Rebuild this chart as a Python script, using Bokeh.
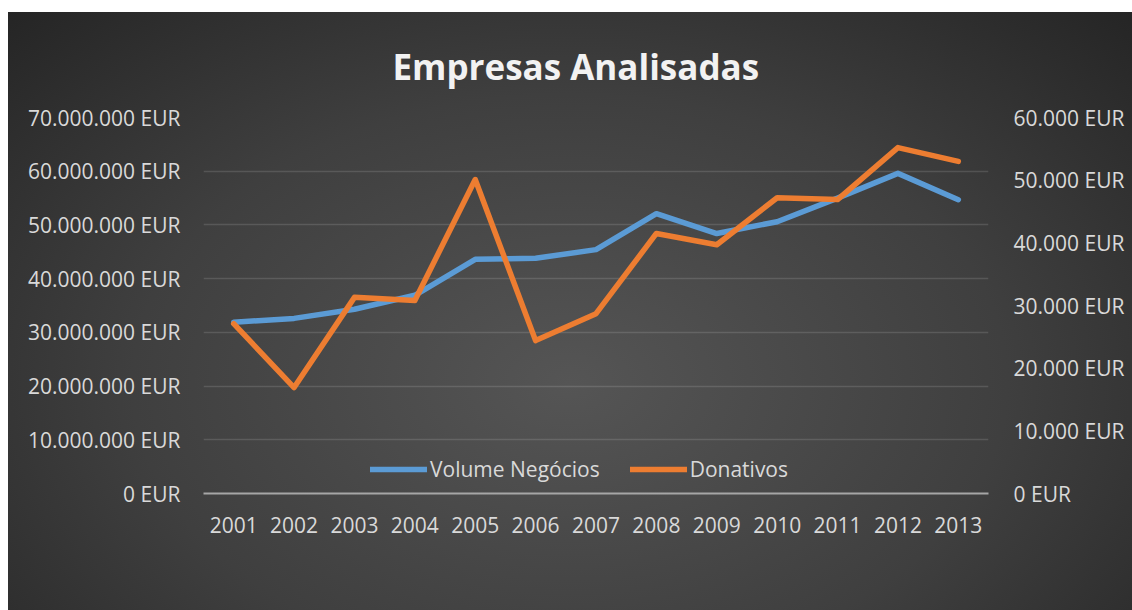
from bokeh.plotting import figure
from bokeh.models import (Range1d, FactorRange, LinearAxis, FixedTicker, Legend,
                          LegendItem, Spacer)
from bokeh.layouts import column, row
from bokeh.embed import file_html
from bokeh.resources import INLINE

years = ["2001", "2002", "2003", "2004", "2005", "2006", "2007",
         "2008", "2009", "2010", "2011", "2012", "2013"]
volume_negocios = [31.9e6, 32.6e6, 34.3e6, 36.9e6, 43.6e6, 43.8e6, 45.4e6,
                   52.1e6, 48.4e6, 50.6e6, 55.0e6, 59.6e6, 54.7e6]
donativos = [27100, 16900, 31300, 30800, 50100, 24400, 28700,
             41500, 39700, 47200, 46900, 55200, 53000]

left_ticks = [0, 10e6, 20e6, 30e6, 40e6, 50e6, 60e6, 70e6]
left_tick_labels = ["0 EUR", "10.000.000 EUR", "20.000.000 EUR", "30.000.000 EUR",
                    "40.000.000 EUR", "50.000.000 EUR", "60.000.000 EUR", "70.000.000 EUR"]
right_ticks = [0, 10000, 20000, 30000, 40000, 50000, 60000]
right_tick_labels = ["0 EUR", "10.000 EUR", "20.000 EUR", "30.000 EUR",
                     "40.000 EUR", "50.000 EUR", "60.000 EUR"]

FONT = "Open Sans"
LABEL_COLOR = "#d9d9d9"
BLUE = "#5B9BD5"
ORANGE = "#ED7D31"

p = figure(frame_width=785, frame_height=376,
           x_range=FactorRange(*years, range_padding=0),
           y_range=Range1d(0, 70e6),
           output_backend="svg", toolbar_location=None,
           min_border_left=195, min_border_right=144,
           min_border_top=105, min_border_bottom=117)
p.background_fill_color = None
p.border_fill_color = None
p.outline_line_color = None
p.styles = {"background": "radial-gradient(ellipse farthest-corner at 50% 62%, #555555 0%, #3f3f3f 55%, #252525 100%)"}

# title
p.title.text = "Empresas Analisadas"
p.title.align = "left"
p.title.offset = 189
p.title.standoff = 56
p.title.text_font = FONT
p.title.text_font_size = "35px"
p.title.text_font_style = "bold"
p.title.text_color = "#f2f2f2"

p.extra_y_ranges = {"don": Range1d(0, 60000)}

# grid
p.xgrid.visible = False
p.ygrid.ticker = FixedTicker(ticks=left_ticks)
p.ygrid.grid_line_color = "white"
p.ygrid.grid_line_alpha = 0.13
p.ygrid.grid_line_width = 1.5

# x axis
xa = p.xaxis[0]
xa.axis_line_color = "#a6a6a6"
xa.axis_line_width = 2
xa.major_tick_line_color = None
xa.minor_tick_line_color = None
xa.major_tick_out = 0
xa.major_label_standoff = 23
xa.major_label_text_font = FONT
xa.major_label_text_font_size = "21px"
xa.major_label_text_color = LABEL_COLOR

# left axis
ya = p.yaxis[0]
ya.ticker = FixedTicker(ticks=left_ticks)
ya.major_label_overrides = {t: l for t, l in zip(left_ticks, left_tick_labels)}
ya.axis_line_color = None
ya.major_tick_line_color = None
ya.minor_tick_line_color = None
ya.major_tick_out = 0
ya.major_tick_in = 0
ya.major_label_standoff = 23
ya.major_label_text_font = FONT
ya.major_label_text_font_size = "21px"
ya.major_label_text_color = LABEL_COLOR

# right axis
ra = LinearAxis(y_range_name="don", ticker=FixedTicker(ticks=right_ticks))
ra.major_label_overrides = {t: l for t, l in zip(right_ticks, right_tick_labels)}
ra.axis_line_color = None
ra.major_tick_line_color = None
ra.minor_tick_line_color = None
ra.major_tick_out = 0
ra.major_tick_in = 0
ra.major_label_standoff = 25
ra.major_label_text_font = FONT
ra.major_label_text_font_size = "21px"
ra.major_label_text_color = LABEL_COLOR
p.add_layout(ra, "right")

r1 = p.line(years, volume_negocios, line_color=BLUE, line_width=5.5,
            line_cap="round", line_join="round")
r2 = p.line(years, donativos, y_range_name="don", line_color=ORANGE, line_width=5.5,
            line_cap="round", line_join="round")

legend = Legend(items=[LegendItem(label="Volume Negócios", renderers=[r1]),
                       LegendItem(label="Donativos", renderers=[r2])],
                orientation="horizontal", location=(167, 10),
                background_fill_alpha=0, border_line_color=None,
                padding=0, margin=0, spacing=30,
                glyph_width=57, glyph_height=24, label_standoff=3,
                label_text_font=FONT, label_text_font_size="21px",
                label_text_color=LABEL_COLOR)
p.add_layout(legend)

layout = column(Spacer(height=12), row(Spacer(width=8), p))
open("out.html", "w").write(file_html(layout, INLINE))
